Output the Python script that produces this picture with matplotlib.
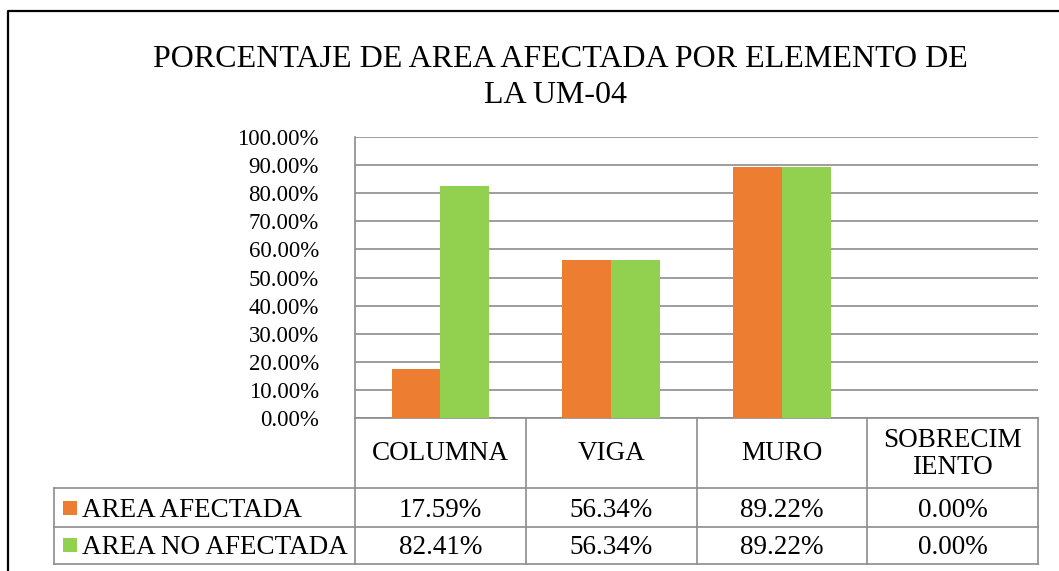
import matplotlib
matplotlib.use("Agg")
import matplotlib.pyplot as plt
from matplotlib.ticker import FuncFormatter

# data
categories = ["COLUMNA", "VIGA", "MURO", "SOBRECIM\nIENTO"]
series_names = ["AREA AFECTADA", "AREA NO AFECTADA"]
area_afectada = [17.59, 56.34, 89.22, 0.00]
area_no_afectada = [82.41, 56.34, 89.22, 0.00]
series_values = [area_afectada, area_no_afectada]
colors = ["#ED7D31", "#92D050"]
yticks = [0, 10, 20, 30, 40, 50, 60, 70, 80, 90, 100]

plt.rcParams["font.family"] = ["Liberation Serif", "DejaVu Serif"]
GRID = "#8c8c8c"

W, H = 1059, 571
fig = plt.figure(figsize=(W / 100, H / 100), dpi=100)

# background axes in pixel coordinates (frame, title, table)
bg = fig.add_axes([0, 0, 1, 1], zorder=0)
bg.set_xlim(0, W)
bg.set_ylim(H, 0)
bg.axis("off")

# plot area in pixels
px_left, px_right, px_top, px_bottom = 355, 1038, 137, 418
ax = fig.add_axes([px_left / W, 1 - px_bottom / H,
                   (px_right - px_left) / W, (px_bottom - px_top) / H], zorder=1)
ax.set_facecolor("none")

n = len(categories)
bw = 0.285
x = list(range(n))
for k, vals in enumerate(series_values):
    off = (k - 0.5) * bw
    ax.bar([i + off for i in x], vals, width=bw, color=colors[k],
           edgecolor="none", zorder=2)

ax.set_xlim(-0.5, n - 0.5)
ax.set_ylim(0, 100)
ax.set_yticks(yticks)
ax.yaxis.set_major_formatter(FuncFormatter(lambda v, p: f"{v:.2f}%"))
ax.tick_params(axis="y", length=0, pad=26, labelsize=16.5)
ax.set_xticks([])
ax.grid(axis="y", color=GRID, linewidth=1.2, zorder=0)
for s in ["top", "right", "bottom"]:
    ax.spines[s].set_visible(False)
ax.spines["left"].set_color(GRID)
ax.spines["left"].set_linewidth(1.2)

# outer frame (cropped on right and bottom)
bg.plot([8, 8, W + 5], [H + 5, 11, 11], color="black", lw=1.6, clip_on=False)

# title
bg.text(560, 67, "PORCENTAJE DE AREA AFECTADA POR ELEMENTO DE",
        ha="center", va="baseline", fontsize=23)
bg.text(556, 103, "LA UM-04", ha="center", va="baseline", fontsize=23)

# data table
col_w = (px_right - px_left) / n
col_x = [px_left + i * col_w for i in range(n + 1)]
row_y = [418, 488, 527, 564]
leg_left = 54
tfs = 19.5

for xv in col_x:
    bg.plot([xv, xv], [row_y[0], row_y[-1]], color=GRID, lw=1.2)
bg.plot([px_left, px_right], [row_y[0], row_y[0]], color=GRID, lw=1.2)
for yv in row_y[1:]:
    bg.plot([leg_left, px_right], [yv, yv], color=GRID, lw=1.2)
bg.plot([leg_left, leg_left], [row_y[1], row_y[-1]], color=GRID, lw=1.2)

for i, cat in enumerate(categories):
    cx = (col_x[i] + col_x[i + 1]) / 2
    bg.text(cx, (row_y[0] + row_y[1]) / 2 + 1, cat, ha="center", va="center",
            fontsize=tfs, linespacing=1.1)

baselines = [517, 554]
for k, name in enumerate(series_names):
    yb = baselines[k]
    bg.add_patch(plt.Rectangle((63, yb - 16), 14, 14, color=colors[k], lw=0))
    bg.text(82, yb, name, ha="left", va="baseline", fontsize=tfs)
    for i, v in enumerate(series_values[k]):
        cx = (col_x[i] + col_x[i + 1]) / 2
        bg.text(cx, yb, f"{v:.2f}%", ha="center", va="baseline", fontsize=tfs)

fig.savefig("out.png", dpi=100, facecolor="white")
